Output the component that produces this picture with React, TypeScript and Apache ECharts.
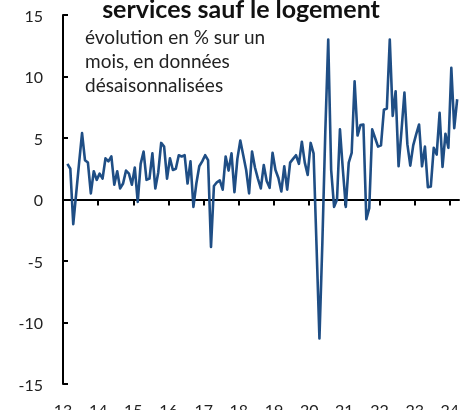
import React, { useEffect, useRef } from "react";
import * as echarts from "echarts";

const startYear = 2013;

// Monthly values, Jan 2013 .. Feb 2024 (% change, month over month, SA)
const values2013 = [2.9, 2.5, -2.0, 0.5, 3.0, 5.4, 3.2, 3.0, 0.5, 2.3, 1.6, 2.1];
const values2014 = [1.7, 3.35, 3.1, 3.5, 1.2, 2.3, 0.9, 1.3, 2.35, 2.1, 1.2, 2.6];
const values2015 = [-0.2, 2.9, 3.9, 1.6, 1.7, 3.75, 0.9, 2.2, 4.6, 4.3, 1.7, 3.35];
const values2016 = [2.4, 2.5, 3.6, 3.5, 3.6, 1.3, 3.1, -0.6, 1.3, 2.7, 3.1, 3.6];
const values2017 = [3.2, -3.85, 1.1, 1.4, 1.55, 0.8, 3.5, 2.35, 3.75, 0.6, 3.3, 4.8];
const values2018 = [3.6, 2.4, 0.5, 3.9, 2.6, 1.7, 0.9, 2.8, 1.5, 0.95, 3.8, 2.4];
const values2019 = [1.75, 0.65, 2.7, 0.8, 3.0, 3.3, 3.6, 2.9, 4.7, 3.0, 2.0, 4.6];
const values2020 = [3.75, -3.7, -11.3, -3.5, 5.5, 13.0, 2.4, -0.6, 0.0, 5.7, 2.4, -0.6];
const values2021 = [3.0, 3.8, 9.6, 5.2, 6.05, 6.1, -1.6, -0.7, 5.7, 5.0, 4.3, 4.4];
const values2022 = [7.3, 7.4, 13.0, 6.8, 8.8, 2.7, 5.6, 8.7, 4.5, 2.75, 4.4, 5.3];
const values2023 = [6.1, 2.7, 4.3, 1.0, 1.05, 4.2, 3.65, 7.05, 2.65, 5.35, 4.2, 10.7];
const values2024 = [5.8, 8.15];

const values = [
  ...values2013, ...values2014, ...values2015, ...values2016, ...values2017, ...values2018,
  ...values2019, ...values2020, ...values2021, ...values2022, ...values2023, ...values2024,
];

const yearTicks = [2013, 2014, 2015, 2016, 2017, 2018, 2019, 2020, 2021, 2022, 2023, 2024];
const yMin = -15;
const yMax = 15;
const yStep = 5;

const title = "services sauf le logement";
const subtitleLines = ["évolution en % sur un", "mois, en données", "désaisonnalisées"];

const FONT = "Lato, 'Open Sans', sans-serif";

export default function App() {
  const ref = useRef<HTMLDivElement>(null);
  useEffect(() => {
    const chart = echarts.init(ref.current!, null, { renderer: "svg" });
    const data = values.map((v, i) => [startYear + (i + 1.5) / 12, v]);
    const xMin = 2013;
    const xMax = 2024.26;
    const subtitleY = [36.6, 60.3, 84.0];
    chart.setOption({
      animation: false,
      grid: { left: 63, right: 3, top: 15, bottom: 26, outerBoundsMode: "none", containLabel: false },
      xAxis: [
        {
          type: "value",
          min: xMin,
          max: xMax,
          interval: 1,
          axisLine: { show: true, onZero: true, lineStyle: { color: "#000", width: 2 } },
          axisTick: { show: true, length: 6, lineStyle: { color: "#000", width: 2 }, customValues: yearTicks },
          axisLabel: { show: false },
          splitLine: { show: false },
        },
        {
          type: "value",
          min: xMin,
          max: xMax,
          interval: 1,
          position: "bottom",
          axisLine: { show: false },
          axisTick: { show: false },
          splitLine: { show: false },
          axisLabel: {
            show: true,
            customValues: yearTicks,
            formatter: (v: number) => String(Math.round(v)).slice(2),
            margin: 17,
            fontSize: 16,
            color: "#222",
            fontFamily: FONT,
            hideOverlap: false,
          },
        },
      ],
      yAxis: {
        type: "value",
        min: yMin,
        max: yMax,
        interval: yStep,
        axisLine: { show: true, onZero: false, lineStyle: { color: "#000", width: 2 } },
        axisTick: { show: true, inside: true, length: 5, lineStyle: { color: "#000", width: 2 } },
        axisLabel: { margin: 20, fontSize: 16, color: "#222", fontFamily: FONT },
        splitLine: { show: false },
      },
      series: [
        {
          type: "line",
          xAxisIndex: 0,
          data,
          showSymbol: false,
          symbol: "none",
          lineStyle: { color: "#1f4e85", width: 2.6, join: "round" },
          z: 3,
        },
      ],
      graphic: [
        {
          type: "text",
          x: 241,
          y: 8,
          style: {
            text: title,
            textAlign: "center",
            textVerticalAlign: "middle",
            font: `bold 25px ${FONT}`,
            fill: "#111",
          },
        },
        ...subtitleLines.map((line, k) => ({
          type: "text",
          x: 85,
          y: subtitleY[k],
          style: {
            text: line,
            textAlign: "left",
            textVerticalAlign: "middle",
            font: `19px ${FONT}`,
            fill: "#222",
          },
        })),
      ],
    });
    return () => chart.dispose();
  }, []);
  return <div ref={ref} style={{ position: "fixed", left: 0, top: 0, width: 462, height: 410 }} />;
}
